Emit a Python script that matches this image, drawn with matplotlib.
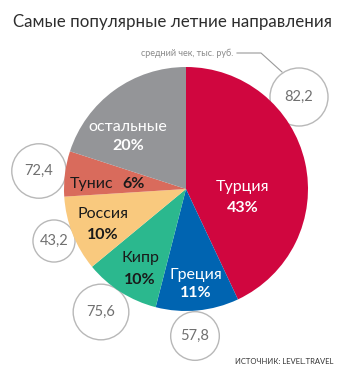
import matplotlib
matplotlib.use("Agg")
import matplotlib.pyplot as plt
from matplotlib.patches import Circle
import numpy as np

# ---- data ----
categories = ["Турция", "Греция", "Кипр", "Россия", "Тунис", "остальные"]
shares = [43, 11, 10, 10, 6, 20]
avg_check = [82.2, 57.8, 75.6, 43.2, 72.4, None]
avg_labels = ["82,2", "57,8", "75,6", "43,2", "72,4", None]
colors = ["#D0063F", "#0064B1", "#2BB88E", "#F9C97E", "#D96B5C", "#949598"]
text_colors = ["white", "white", "#1a1a1a", "#1a1a1a", "#1a1a1a", "white"]

title = "Самые популярные летние направления"
note = "средний чек, тыс. руб."
source = "ИСТОЧНИК: LEVEL.TRAVEL"

W, H = 359, 380
fig = plt.figure(figsize=(W / 100, H / 100), dpi=100)
ax = fig.add_axes([0, 0, 1, 1])

FONT = ["Lato", "DejaVu Sans"]

cx, cy, R = 186, H - 189, 122
wedges, _ = ax.pie(shares, colors=colors, startangle=90, counterclock=False,
                   center=(cx, cy), radius=R, frame=True,
                   wedgeprops=dict(linewidth=0, zorder=3))
ax.set_xlim(0, W)
ax.set_ylim(0, H)
ax.set_aspect("equal")
ax.axis("off")

# bubble positions (layout, pixel coords from top)
bubble_pos = [(299, 97), (195, 336), (101, 312), (54, 241), (39, 171)]
for (bx, by), v, lab in zip(bubble_pos, avg_check, avg_labels):
    r = 3.2 * np.sqrt(v)
    ax.add_patch(Circle((bx, H - by), r, facecolor="white", edgecolor="#b8b8b8",
                        linewidth=1.0, zorder=1))
    ax.text(bx, H - by, lab, ha="center", va="center", fontsize=10.5,
            color="#707070", family=FONT, zorder=2)

# leader line for note
ax.plot([237, 261, 282], [H - 53, H - 53, H - 72], color="#9a9a9a", lw=0.8, zorder=2)
ax.text(233, H - 53, note, ha="right", va="center", fontsize=6.5,
        color="#8a8a8a", family=FONT)

# slice labels (layout positions)
label_pos = [(243, 187, 208), (196, 275, 293), (140, 258, 280), (103, 214, 235),
             None, (128, 127, 146)]
LS = 11.5
for i, (cat, s) in enumerate(zip(categories, shares)):
    tc = text_colors[i]
    if label_pos[i] is None:
        ax.text(113, H - 184, cat, ha="right", va="center", fontsize=LS,
                color=tc, family=FONT, zorder=5)
        ax.text(122, H - 184, f"{s}%", ha="left", va="center", fontsize=LS,
                color=tc, family=FONT, fontweight="bold", zorder=5)
        continue
    x, y1, y2 = label_pos[i]
    ax.text(x, H - y1, cat, ha="center", va="center", fontsize=LS,
            color=tc, family=FONT, zorder=5)
    ax.text(x, H - y2, f"{s}%", ha="center", va="center", fontsize=LS,
            color=tc, family=FONT, fontweight="bold", zorder=5)

ax.text(13, H - 22, title, ha="left", va="center", fontsize=12.2,
        color="#2e2e2e", family=FONT)
ax.text(333, H - 362, source, ha="right", va="center", fontsize=5.5,
        color="#333333", family=FONT)

fig.savefig("out.png", dpi=100)
